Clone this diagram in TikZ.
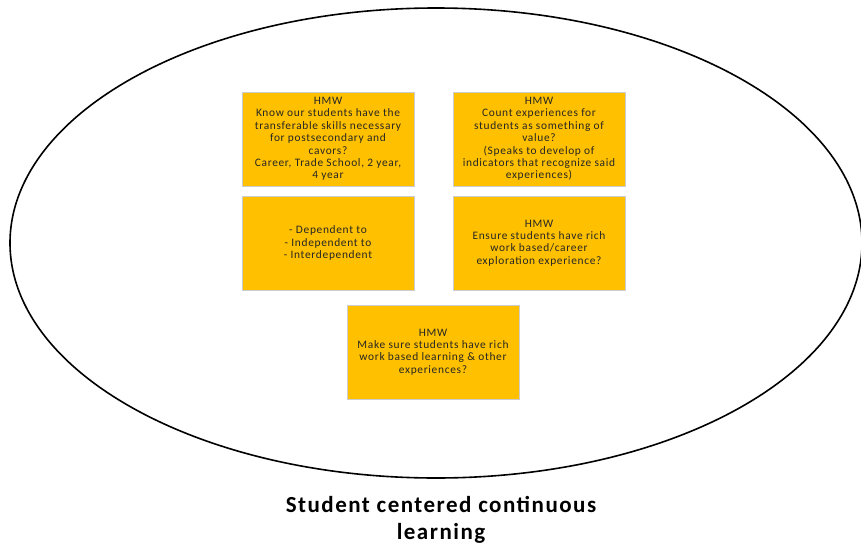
\documentclass[tikz,border=0pt]{standalone}
\usepackage{fontspec}
\setmainfont{Carlito}
\newfontfamily\hmwfont[LetterSpace=6]{Carlito}
\newfontfamily\capfont[LetterSpace=6.5]{Carlito}
\usetikzlibrary{shapes.geometric}
\definecolor{hmwgold}{HTML}{FFC000}
\tikzset{
  hmwnode/.style = {rectangle, fill=hmwgold, draw=gray!40, line width=0.6pt,
    minimum width=172pt, minimum height=94pt, inner sep=0pt, align=center,
    text=black!85, font=\hmwfont\fontsize{11.4}{12.4}\selectfont},% post-it box
  outline/.style = {ellipse, draw, line width=1.6pt, minimum width=852pt,
    minimum height=470pt, inner sep=0pt},% big ring
  caption/.style = {align=center, font=\capfont\bfseries\fontsize{23}{27}\selectfont}
}
\begin{document}
\begin{tikzpicture}[x=1pt,y=-1pt]
\useasboundingbox (0,0) rectangle (861,546);
\node [outline] (ring) at (436,243) {};
\node [hmwnode] (know) at (328,139) {HMW\\Know our students have the\\transferable skills necessary\\for postsecondary and\\cavors?\\Career, Trade School, 2 year,\\4 year};
\node [hmwnode] (count) at (539,139) {HMW\\Count experiences for\\students as something of\\value?\\(Speaks to develop of\\indicators that recognize said\\experiences)};
\node [hmwnode] (depend) at (328,243) {- Dependent to\\- Independent to\\- Interdependent};
\node [hmwnode] (ensure) at (539,243) {HMW\\Ensure students have rich\\work based/career\\exploration experience?};
\node [hmwnode] (make) at (433,352) {HMW\\Make sure students have rich\\work based learning \& other\\experiences?};
% title under the ring
\node [caption] (title) at (441,520) {Student centered continuous\\learning};
\end{tikzpicture}
\end{document}
